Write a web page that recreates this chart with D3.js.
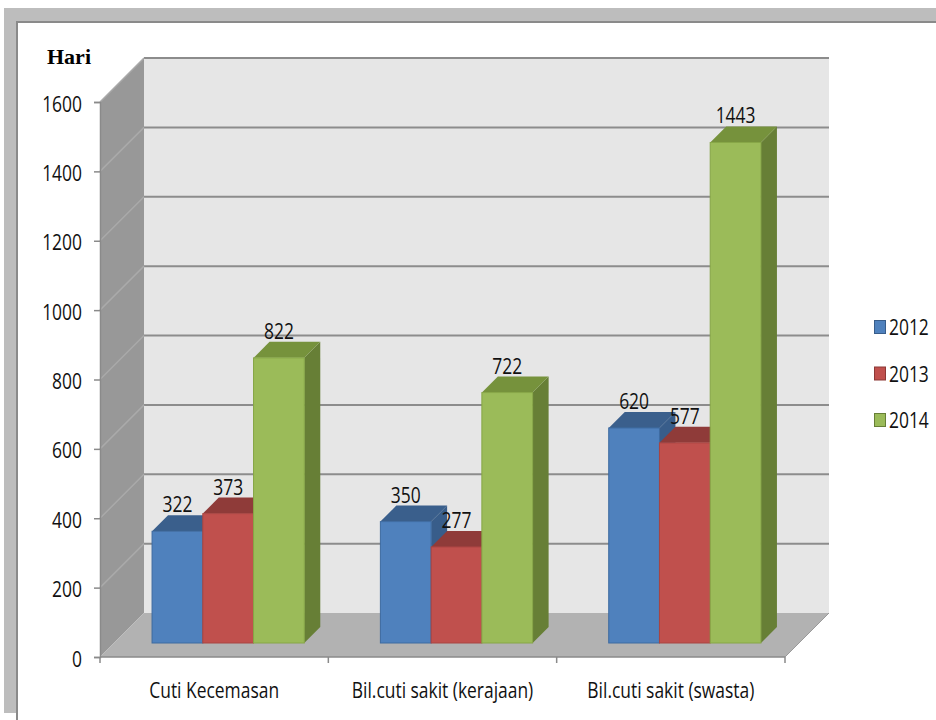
<!DOCTYPE html>
<html>
<head>
<meta charset="utf-8">
<script src="https://cdn.jsdelivr.net/npm/d3@7/dist/d3.min.js"></script>
<style>
  body { margin: 0; background: #fff; }
</style>
</head>
<body>
<div id="graphic"></div>
<script>
// data
var categories = ["Cuti Kecemasan", "Bil.cuti sakit (kerajaan)", "Bil.cuti sakit (swasta)"];
var series = ["2012", "2013", "2014"];
var values2012 = [322, 350, 620];
var values2013 = [373, 277, 577];
var values2014 = [822, 722, 1443];
var yTicks = [0, 200, 400, 600, 800, 1000, 1200, 1400, 1600];

var allValues = [values2012, values2013, values2014];

// colours per series: front, top, side, edge
var colors = [
  {front: "#4f81bd", top: "#3a5f8c", side: "#385d8a", edge: "#3d6aa0"},
  {front: "#c0504d", top: "#8f3b39", side: "#8c3836", edge: "#a84542"},
  {front: "#9bbb59", top: "#76923c", side: "#677f36", edge: "#86a646"}
];

var width = 936, height = 720;
var depth = 44;      // wall depth (oblique, 45 deg)
var barOff = 14;     // bars sit this far behind the front plane
var barDepth = 16;

var FONT = "'Open Sans', 'Noto Sans', sans-serif";
var FS = 21, SX = 0.83;   // narrow, tall text like the original

var svg = d3.select("#graphic").append("svg")
    .attr("width", width)
    .attr("height", height);

function label(g, px, py, str, anchor) {
  return g.append("text")
      .attr("transform", "translate(" + px + "," + py + ") scale(" + SX + ",1)")
      .attr("text-anchor", anchor || "middle")
      .style("font-family", FONT)
      .style("font-size", FS + "px")
      .attr("fill", "#111")
      .text(str);
}

// outer frame
svg.append("rect").attr("x", 4).attr("y", 8).attr("width", 932).attr("height", 705).attr("fill", "#bdbdbd");
svg.append("rect").attr("x", 16).attr("y", 21).attr("width", 920).attr("height", 699).attr("fill", "#8a8a8a");
svg.append("rect").attr("x", 18).attr("y", 23).attr("width", 918).attr("height", 697).attr("fill", "#ffffff");

var left = 100, right = 785;
var y = d3.scaleLinear().domain([0, 1600]).range([657, 102]);
var x = d3.scaleBand().domain(categories).range([left, right]);
var xs = d3.scaleBand().domain(series).range([0, x.bandwidth()]).paddingInner(0).paddingOuter(0.75);

var y0 = y(0), yTop = y(1600);

function pts(a) { return a.map(function (p) { return p.join(","); }).join(" "); }

// back wall
svg.append("polygon")
    .attr("points", pts([[left + depth, yTop - depth], [right + depth, yTop - depth], [right + depth, y0 - depth], [left + depth, y0 - depth]]))
    .attr("fill", "#e6e6e6");

// side wall
svg.append("polygon")
    .attr("points", pts([[left, yTop], [left + depth, yTop - depth], [left + depth, y0 - depth], [left, y0]]))
    .attr("fill", "#989898");

// floor
svg.append("polygon")
    .attr("points", pts([[left, y0], [left + depth, y0 - depth], [right + depth, y0 - depth], [right, y0]]))
    .attr("fill", "#b2b2b2");

// gridlines
var grid = svg.append("g");
yTicks.filter(function (d) { return d > 0; }).forEach(function (t) {
  grid.append("line")
      .attr("x1", left + depth).attr("x2", right + depth)
      .attr("y1", y(t) - depth).attr("y2", y(t) - depth)
      .attr("stroke", "#8c8c8c").attr("stroke-width", 2);
  grid.append("line")
      .attr("x1", left).attr("x2", left + depth)
      .attr("y1", y(t)).attr("y2", y(t) - depth)
      .attr("stroke", "#aaaaaa").attr("stroke-width", 1.5);
});

// floor front edge / x axis
svg.append("line").attr("x1", left).attr("x2", right).attr("y1", y0).attr("y2", y0)
    .attr("stroke", "#8a8a8a").attr("stroke-width", 1.5);
svg.append("line").attr("x1", right).attr("x2", right + depth).attr("y1", y0).attr("y2", y0 - depth)
    .attr("stroke", "#9a9a9a").attr("stroke-width", 1);

// y axis
var yAxis = d3.axisLeft(y).tickValues(yTicks).tickSize(6).tickFormat(d3.format("d"));
var gy = svg.append("g").attr("transform", "translate(" + left + ",0)").call(yAxis);
gy.select(".domain").attr("stroke", "#8a8a8a").attr("stroke-width", 1.5);
gy.selectAll(".tick line").attr("stroke", "#8a8a8a").attr("stroke-width", 1.5);
gy.selectAll(".tick text")
    .attr("x", null).attr("dy", null)
    .attr("transform", "translate(-18,9) scale(" + SX + ",1)")
    .style("font-family", FONT)
    .style("font-size", FS + "px")
    .attr("fill", "#111");

// x axis ticks between categories
var xTickPos = categories.map(function (c) { return x(c); }).concat([x.range()[1]]);
svg.append("g").selectAll("line").data(xTickPos).enter().append("line")
    .attr("x1", function (d) { return d; }).attr("x2", function (d) { return d; })
    .attr("y1", y0).attr("y2", y0 + 6)
    .attr("stroke", "#8a8a8a").attr("stroke-width", 1.5);

var xLabels = svg.append("g");
categories.forEach(function (c) {
  label(xLabels, x(c) + x.bandwidth() / 2, 698, c);
});

// bars, painted left to right
var bars = svg.append("g");
categories.forEach(function (c, ci) {
  series.forEach(function (s, si) {
    var v = allValues[si][ci];
    var bx = x(c) + xs(s) + barOff;
    var bw = xs.bandwidth();
    var by = y(v) - barOff;
    var bb = y0 - barOff;
    var col = colors[si];
    var g = bars.append("g");
    g.append("polygon")
        .attr("points", pts([[bx + bw, by], [bx + bw + barDepth, by - barDepth], [bx + bw + barDepth, bb - barDepth], [bx + bw, bb]]))
        .attr("fill", col.side);
    g.append("polygon")
        .attr("points", pts([[bx, by], [bx + barDepth, by - barDepth], [bx + bw + barDepth, by - barDepth], [bx + bw, by]]))
        .attr("fill", col.top);
    g.append("rect")
        .attr("x", bx).attr("y", by).attr("width", bw).attr("height", bb - by)
        .attr("fill", col.front).attr("stroke", col.edge).attr("stroke-width", 1);
  });
});

// value labels
var labels = svg.append("g");
categories.forEach(function (c, ci) {
  series.forEach(function (s, si) {
    var v = allValues[si][ci];
    label(labels, x(c) + xs(s) + barOff + xs.bandwidth() / 2, y(v) - barOff - barDepth - 3, v);
  });
});

// y axis title
svg.append("text")
    .attr("x", 47).attr("y", 64)
    .style("font-family", "'Liberation Serif', 'DejaVu Serif', serif")
    .style("font-weight", "bold")
    .style("font-size", "22px")
    .attr("fill", "#000")
    .text("Hari");

// legend
var legend = svg.append("g").attr("transform", "translate(874,320)");
series.forEach(function (s, i) {
  var row = legend.append("g").attr("transform", "translate(0," + (i * 46.5) + ")");
  row.append("rect").attr("x", 0.5).attr("y", 0.5).attr("width", 11).attr("height", 13)
      .attr("fill", colors[i].front).attr("stroke", colors[i].side).attr("stroke-width", 1);
  label(row, 15, 15, s, "start");
});
</script>
</body>
</html>
